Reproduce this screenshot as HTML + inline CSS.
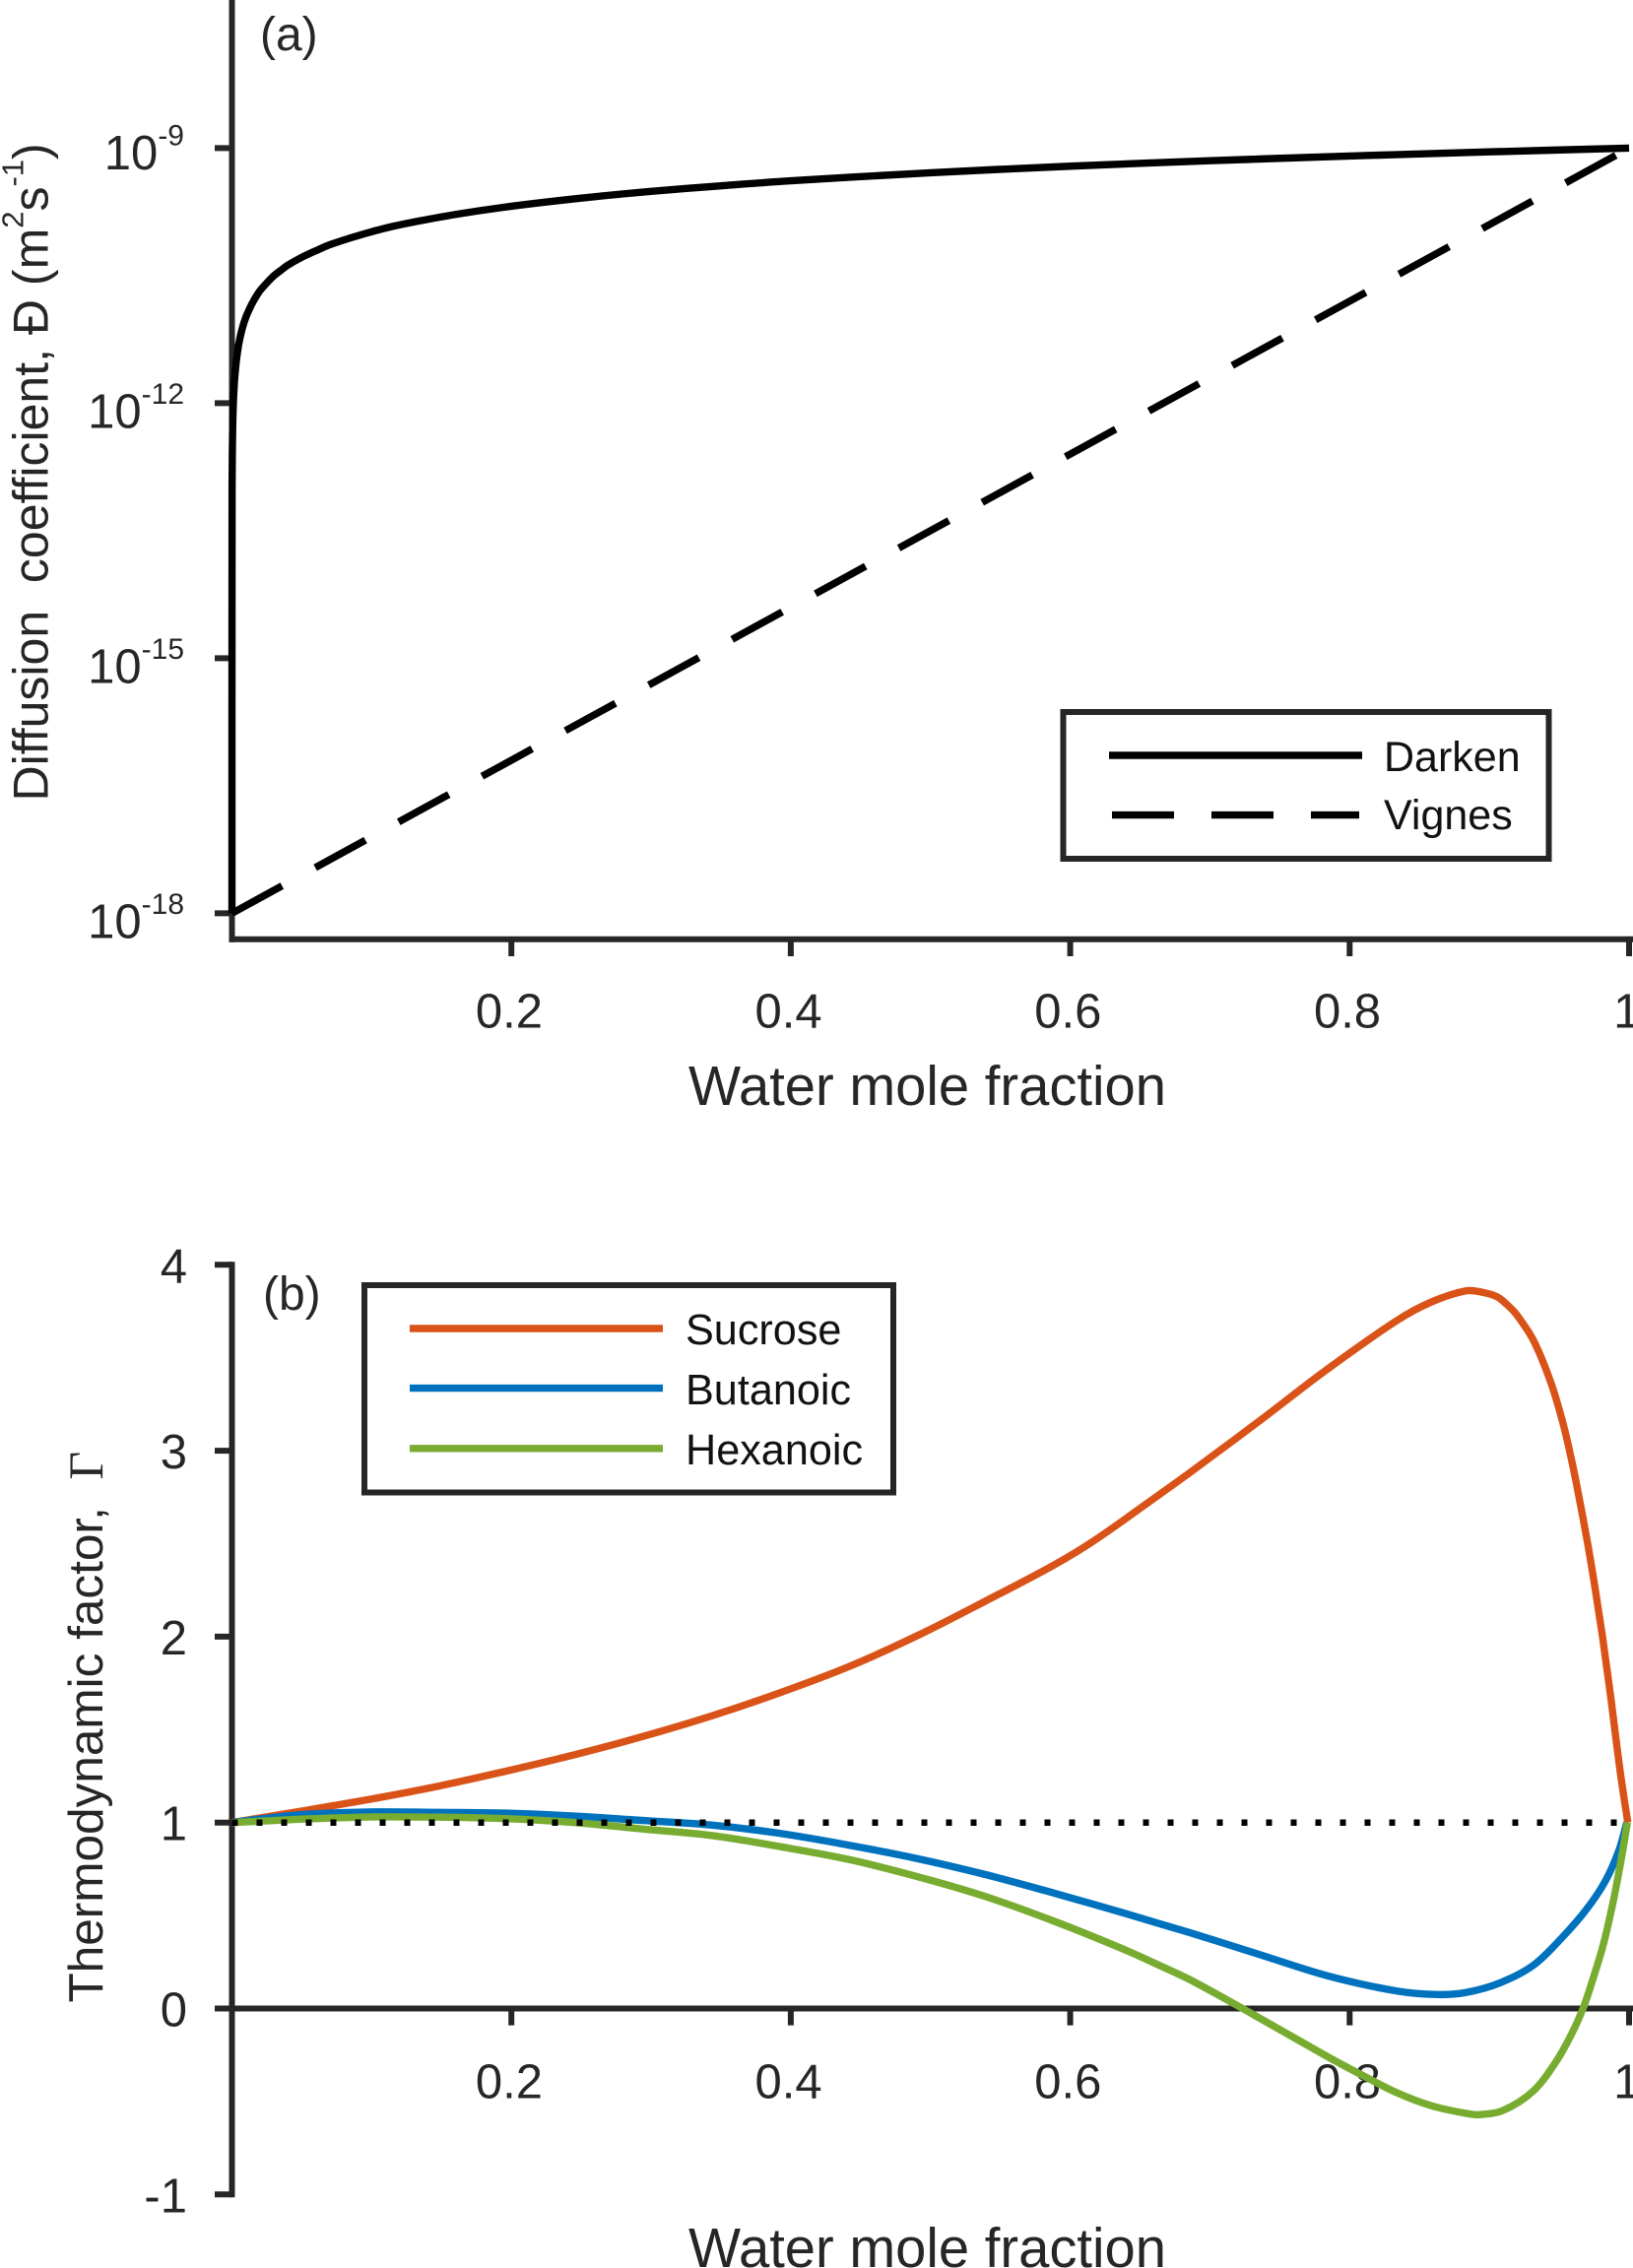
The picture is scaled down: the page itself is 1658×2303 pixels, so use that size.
<!DOCTYPE html>
<html lang="en">
<head>
<meta charset="utf-8">
<title>Diffusion coefficient and thermodynamic factor</title>
<style>
  html, body { margin: 0; padding: 0; background: #fff; }
  body { width: 1658px; height: 2303px; overflow: hidden; }
  svg { display: block; font-family: "Liberation Sans", Arial, sans-serif; }
  text { white-space: pre; fill: #262626; }
</style>
</head>
<body>
<svg id="chart" xmlns="http://www.w3.org/2000/svg" width="1658" height="2303" viewBox="0 0 1658 2303">
  <rect width="1658" height="2303" fill="#fff"/>
  <g id="panelA"></g>
  <g id="panelB"></g>
</svg>
<script>
// ---- Shared x axis ----
const xTickValues = [0.2, 0.4, 0.6, 0.8, 1];
const xTickLabels = ["0.2", "0.4", "0.6", "0.8", "1"];

// ---- Panel (a) data ----
const aYTickExponents = [-9, -12, -15, -18];
const darkenX = [0, 0.0001, 0.0005, 0.001, 0.0015, 0.002, 0.003, 0.004, 0.005, 0.0075, 0.01, 0.0125, 0.015, 0.0175, 0.02, 0.025, 0.03, 0.035, 0.04, 0.05, 0.06, 0.07, 0.085, 0.1, 0.115, 0.13, 0.16, 0.2, 0.25, 0.3, 0.35, 0.4, 0.5, 0.6, 0.7, 0.8, 0.9, 1];
const darkenD = [1e-18, 1e-13, 5e-13, 1e-12, 1.5e-12, 2e-12, 3e-12, 4e-12, 5.1e-12, 7.7e-12, 1.03e-11, 1.28e-11, 1.55e-11, 1.82e-11, 2.1e-11, 2.6e-11, 3.15e-11, 3.65e-11, 4.2e-11, 5.2e-11, 6.2e-11, 7.3e-11, 8.8e-11, 1.04e-10, 1.2e-10, 1.35e-10, 1.66e-10, 2.07e-10, 2.58e-10, 3.1e-10, 3.6e-10, 4.13e-10, 5.13e-10, 6.13e-10, 7.1e-10, 8.07e-10, 9.03e-10, 1e-9];
const vignesX = [0, 1];
const vignesD = [1e-18, 1e-9];

// ---- Panel (b) data ----
const bYTickValues = [4, 3, 2, 1, 0, -1];
const sucroseX = [0, 0.0483, 0.0978, 0.1477, 0.1958, 0.2452, 0.2945, 0.3439, 0.3921, 0.4419, 0.4908, 0.539, 0.5883, 0.6188, 0.6658, 0.6858, 0.7363, 0.7834, 0.8338, 0.8585, 0.8832, 0.895, 0.9055, 0.9126, 0.9196, 0.9318, 0.9441, 0.9521, 0.9572, 0.9619, 0.9704, 0.9758, 0.981, 0.9869, 0.9913, 0.9944, 0.9991];
const sucroseY = [1, 1.06, 1.124, 1.196, 1.276, 1.365, 1.464, 1.575, 1.698, 1.84, 2.006, 2.19, 2.385, 2.525, 2.775, 2.883, 3.165, 3.435, 3.7, 3.8, 3.86, 3.852, 3.828, 3.786, 3.731, 3.59, 3.365, 3.165, 3.007, 2.84, 2.5, 2.255, 2, 1.675, 1.41, 1.233, 1];
const butanoicX = [0, 0.0483, 0.0978, 0.1477, 0.1958, 0.2452, 0.2945, 0.3439, 0.3921, 0.4419, 0.4908, 0.539, 0.5883, 0.6378, 0.6658, 0.687, 0.7356, 0.7845, 0.8338, 0.8632, 0.8832, 0.9079, 0.9314, 0.9526, 0.969, 0.9826, 0.9925, 0.9984];
const butanoicY = [1, 1.042, 1.057, 1.055, 1.051, 1.035, 1.011, 0.986, 0.942, 0.878, 0.806, 0.721, 0.621, 0.515, 0.452, 0.405, 0.29, 0.175, 0.094, 0.075, 0.086, 0.139, 0.232, 0.386, 0.528, 0.68, 0.845, 1];
const hexanoicX = [0, 0.0483, 0.0978, 0.1477, 0.1958, 0.2452, 0.2945, 0.3439, 0.3921, 0.4419, 0.4908, 0.539, 0.5883, 0.6378, 0.6658, 0.687, 0.7222, 0.7363, 0.7845, 0.8068, 0.8338, 0.8585, 0.8832, 0.8926, 0.9102, 0.9314, 0.9478, 0.9596, 0.9678, 0.974, 0.9807, 0.985, 0.9896, 0.9948, 0.9988];
const hexanoicY = [1, 1.018, 1.03, 1.029, 1.021, 1, 0.965, 0.93, 0.871, 0.801, 0.709, 0.603, 0.47, 0.32, 0.225, 0.15, 0.005, -0.055, -0.26, -0.35, -0.453, -0.523, -0.564, -0.571, -0.547, -0.444, -0.285, -0.126, 0.015, 0.155, 0.32, 0.45, 0.61, 0.82, 1];
const referenceX = [0, 1];
const referenceY = [1, 1];

// ---- Axis functions ----
const NS = "http://www.w3.org/2000/svg";
const AXIS = "#262626";
const CURVE_W = 7.4;
const xScale = v => 235.5 + 1418.5 * v;
const yLogA = d => 150.4 - 86.33 * (Math.log10(d) + 9);
const yB = v => 2039.5 - 188.8 * v;

function el(parent, tag, attrs) {
  const node = document.createElementNS(NS, tag);
  for (const k in attrs) node.setAttribute(k, attrs[k]);
  parent.appendChild(node);
  return node;
}
function line(parent, x1, y1, x2, y2, color, w) {
  return el(parent, "line", { x1, y1, x2, y2, stroke: color, "stroke-width": w });
}
function text(parent, x, y, size, content, anchor, color) {
  const t = el(parent, "text", { x, y, "font-size": size, "text-anchor": anchor || "start" });
  if (color) t.style.fill = color;
  t.textContent = content;
  return t;
}
function polyPath(xs, ys, fy) {
  return xs.map((x, i) => (i ? "L" : "M") + xScale(x).toFixed(2) + " " + fy(ys[i]).toFixed(2)).join(" ");
}
function smoothPath(xs, ys, fy) {
  const p = xs.map((x, i) => [xScale(x), fy(ys[i])]);
  const unitTangent = i => {
    const a = p[Math.max(i - 1, 0)], c = p[Math.min(i + 1, p.length - 1)];
    const dx = c[0] - a[0], dy = c[1] - a[1], len = Math.hypot(dx, dy) || 1;
    return [dx / len, dy / len];
  };
  let d = "M" + p[0][0].toFixed(2) + " " + p[0][1].toFixed(2);
  for (let i = 0; i < p.length - 1; i++) {
    const b = p[i], c = p[i + 1], len = Math.hypot(c[0] - b[0], c[1] - b[1]) / 3;
    const t1 = unitTangent(i), t2 = unitTangent(i + 1);
    d += " C" + (b[0] + t1[0] * len).toFixed(2) + " " + (b[1] + t1[1] * len).toFixed(2) + " " +
         (c[0] - t2[0] * len).toFixed(2) + " " + (c[1] - t2[1] * len).toFixed(2) + " " +
         c[0].toFixed(2) + " " + c[1].toFixed(2);
  }
  return d;
}

// ==== Panel (a) ====
const A = document.getElementById("panelA");

const aYAxis = line(A, 235.5, 0, 235.5, 956.8, AXIS, 6);


const aXAxis = line(A, 232.5, 953.8, 1658, 953.8, AXIS, 6);



aYTickExponents.forEach(exp => {
  const y = yLogA(Math.pow(10, exp));
  const tick = line(A, 218, y, 236, y, AXIS, 6);
  
  
  const label = el(A, "text", { x: 187, y: y + (exp === -9 ? 21.5 : 25), "font-size": 49, "text-anchor": "end" });
  
  
  const base = el(label, "tspan", {});
  base.textContent = "10";
  const sup = el(label, "tspan", { dy: -24.5, "font-size": 30 });
  sup.textContent = String(exp);
});

xTickValues.forEach((v, i) => {
  const x = xScale(v);
  const tick = line(A, x, 953.8, x, 971, AXIS, 6);
  
  
  const label = text(A, x - 2.3, 1043.5, 49, xTickLabels[i], "middle");
  
  
});

const aXTitle = text(A, 699, 1122, 56.2, "Water mole fraction");



const aYTitle = el(A, "text", { transform: "translate(48.5 813.5) rotate(-90)", "font-size": 50 });


const aYT1 = el(aYTitle, "tspan", {});
aYT1.textContent = "Diffusion  coefficient, Ð (m";
const aYT2 = el(aYTitle, "tspan", { dy: -25, "font-size": 31 });
aYT2.textContent = "2";
const aYT3 = el(aYTitle, "tspan", { dy: 25 });
aYT3.textContent = "s";
const aYT4 = el(aYTitle, "tspan", { dy: -25, "font-size": 31 });
aYT4.textContent = "-1";
const aYT5 = el(aYTitle, "tspan", { dy: 25 });
aYT5.textContent = ")";

const aPanelLabel = text(A, 264, 51, 48, "(a)");



const darkenLine = el(A, "path", { d: smoothPath(darkenX, darkenD, yLogA), fill: "none", stroke: "#000", "stroke-width": CURVE_W, "stroke-linejoin": "round" });


const vignesLine = el(A, "path", { d: polyPath(vignesX, vignesD, yLogA), fill: "none", stroke: "#000", "stroke-width": CURVE_W, "stroke-dasharray": "58 38.5" });



const aLegend = el(A, "g", {});


const aLegendBox = el(aLegend, "rect", { x: 1079.5, y: 723, width: 493, height: 149, fill: "#fff", stroke: AXIS, "stroke-width": 6 });


const aLegLine1 = line(aLegend, 1126, 767, 1383, 767, "#000", CURVE_W);


const aLegLine2 = line(aLegend, 1129, 827.6, 1380, 827.6, "#000", CURVE_W);
aLegLine2.setAttribute("stroke-dasharray", "63 38");


const aLegText1 = text(aLegend, 1405, 783, 43, "Darken", "start", "#111");


const aLegText2 = text(aLegend, 1405, 842, 43, "Vignes", "start", "#111");



// ==== Panel (b) ====
const B = document.getElementById("panelB");

const bYAxis = line(B, 235.5, yB(4) - 3, 235.5, yB(-1) + 3, AXIS, 6);


const bXAxis = line(B, 232.5, yB(0), 1658, yB(0), AXIS, 6);



bYTickValues.forEach(v => {
  const y = yB(v);
  const tick = line(B, 218, y, 236, y, AXIS, 6);
  
  
  const label = text(B, 190, y + 18, 49, String(v), "end");
  
  
});

xTickValues.forEach((v, i) => {
  const x = xScale(v);
  const tick = line(B, x, yB(0), x, 2056.6, AXIS, 6);
  
  
  const label = text(B, x - 2.3, 2130.5, 49, xTickLabels[i], "middle");
  
  
});

const bXTitle = text(B, 699, 2302, 56.2, "Water mole fraction");



const bYTitle = el(B, "text", { transform: "translate(104 2033.5) rotate(-90)", "font-size": 49.5 });


const bYT1 = el(bYTitle, "tspan", {});
bYT1.textContent = "Thermodynamic factor,  ";
const bYT2 = el(bYTitle, "tspan", { "font-family": "\"Liberation Serif\", serif" });
bYT2.textContent = "Γ";

const bPanelLabel = text(B, 267, 1330, 48, "(b)");



const sucroseLine = el(B, "path", { d: smoothPath(sucroseX, sucroseY, yB), fill: "none", stroke: "#D95319", "stroke-width": CURVE_W, "stroke-linejoin": "round" });


const butanoicLine = el(B, "path", { d: smoothPath(butanoicX, butanoicY, yB), fill: "none", stroke: "#0072BD", "stroke-width": CURVE_W, "stroke-linejoin": "round" });


const hexanoicLine = el(B, "path", { d: smoothPath(hexanoicX, hexanoicY, yB), fill: "none", stroke: "#77AC30", "stroke-width": CURVE_W, "stroke-linejoin": "round" });


const referencePath = el(B, "path", { d: polyPath(referenceX, referenceY, yB), fill: "none", stroke: "#000", "stroke-width": 6.5, "stroke-dasharray": "6 19" });



const bLegend = el(B, "g", {});


const bLegendBox = el(bLegend, "rect", { x: 370, y: 1305, width: 537, height: 210.5, fill: "#fff", stroke: AXIS, "stroke-width": 6 });


const bLegLine1 = line(bLegend, 416, 1349, 673, 1349, "#D95319", CURVE_W);


const bLegLine2 = line(bLegend, 416, 1409.6, 673, 1409.6, "#0072BD", CURVE_W);


const bLegLine3 = line(bLegend, 416, 1470.8, 673, 1470.8, "#77AC30", CURVE_W);


const bLegText1 = text(bLegend, 696, 1365, 43.2, "Sucrose", "start", "#111");


const bLegText2 = text(bLegend, 696, 1426, 43.2, "Butanoic", "start", "#111");


const bLegText3 = text(bLegend, 696, 1487, 43.2, "Hexanoic", "start", "#111");


</script>
</body>
</html>
